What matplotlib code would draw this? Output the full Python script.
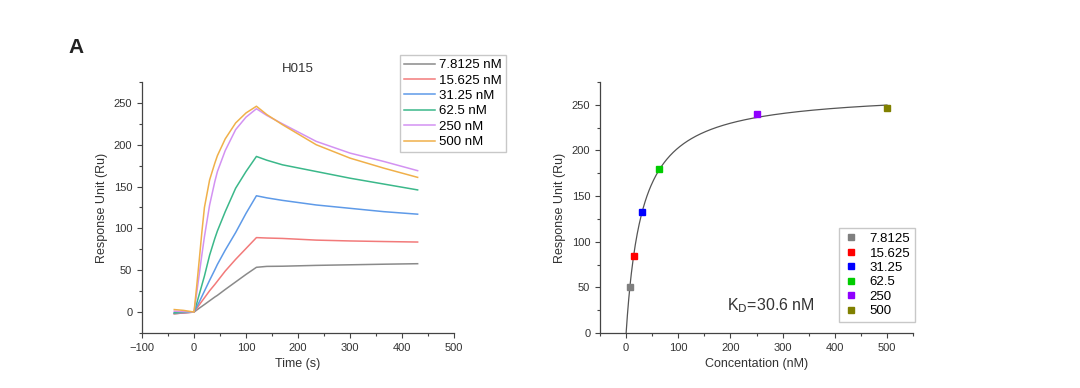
import numpy as np
import matplotlib.pyplot as plt
from matplotlib.ticker import MultipleLocator

plt.rcParams["font.family"] = ["Liberation Sans", "DejaVu Sans"]

# sensorgram (left panel)
time_s = [-38, -20, 0, 5, 10, 15, 20, 30, 40, 45, 60, 80, 100, 120,
          140, 170, 235, 300, 365, 430]
resp_7_8 = [-2, -1, 0, 2.3, 4.6, 6.8, 9, 13.5, 18, 20, 27, 36, 45, 53.5,
            54.6, 54.8, 55.8, 56.5, 57.2, 57.8]
resp_15_6 = [-2, -1, 0, 4, 8.5, 12.8, 17, 25.5, 33, 37, 49, 63, 76, 89,
             88.5, 88, 86, 85, 84.3, 83.7]
resp_31_3 = [-1, -0.5, 0, 6, 12, 18.5, 25, 38, 50.5, 57, 74, 95, 118, 139,
             136.5, 133.5, 128, 124, 120, 117]
resp_62_5 = [-1, 0, 0, 10, 21, 32, 43, 68, 88, 97, 120, 148, 168, 186,
             181.5, 176, 168, 160, 153, 146]
resp_250 = [1, 0.5, 0, 22, 45, 68, 90, 128, 156, 168, 193, 218, 233, 243,
            235, 225, 204, 190, 180, 169]
resp_500 = [3, 2, 0, 30, 62, 95, 125, 158, 178, 187, 207, 226, 238, 246,
            236, 224, 200, 184, 172, 161]
sensor_labels = ["7.8125 nM", "15.625 nM", "31.25 nM", "62.5 nM", "250 nM", "500 nM"]
sensor_colors = ["#8a8a8a", "#f27a7a", "#5e9ae8", "#3bb88a", "#d392f2", "#f0b04a"]

# steady state (right panel)
conc_nM = [7.8125, 15.625, 31.25, 62.5, 250, 500]
resp_eq = [50, 84, 133, 180, 240, 246]
conc_labels = ["7.8125", "15.625", "31.25", "62.5", "250", "500"]
point_colors = ["#7f7f7f", "#ff0000", "#0000ff", "#00cc00", "#8f00ff", "#808000"]
kd = 30.6
rmax = 265

fig = plt.figure(figsize=(10.8, 3.88), dpi=100)
ax1 = fig.add_axes([0.1315, 0.1418, 0.2889, 0.6469])
ax2 = fig.add_axes([0.5556, 0.1418, 0.2898, 0.6469])


def style_axis(ax):
    for side in ["top", "right"]:
        ax.spines[side].set_visible(False)
    for side in ["left", "bottom"]:
        ax.spines[side].set_color("#444444")
        ax.spines[side].set_linewidth(0.9)
    ax.tick_params(which="major", direction="out", length=3.5, width=0.8,
                   labelsize=8, colors="#444444", labelcolor="#333333")
    ax.tick_params(which="minor", direction="out", length=2, width=0.8,
                   colors="#444444")


series = [resp_7_8, resp_15_6, resp_31_3, resp_62_5, resp_250, resp_500]
for vals, lab, col in zip(series, sensor_labels, sensor_colors):
    ax1.plot(time_s, vals, color=col, lw=1.1, label=lab)

ax1.set_xlim(-100, 500)
ax1.set_ylim(-25, 275)
ax1.xaxis.set_major_locator(MultipleLocator(100))
ax1.xaxis.set_minor_locator(MultipleLocator(50))
ax1.yaxis.set_major_locator(MultipleLocator(50))
ax1.yaxis.set_minor_locator(MultipleLocator(25))
ax1.set_yticks([0, 50, 100, 150, 200, 250])
style_axis(ax1)
ax1.set_xlabel("Time (s)", fontsize=9, color="#333333")
ax1.set_ylabel("Response Unit (Ru)", fontsize=9, color="#333333")
ax1.set_title("H015", fontsize=9.5, color="#333333", pad=7)
ax1.legend(loc="upper left", bbox_to_anchor=(0.370, 0.858),
           bbox_transform=fig.transFigure, fontsize=9.5, frameon=True,
           fancybox=False, edgecolor="#bbbbbb", handlelength=2.4,
           labelspacing=0.24, borderpad=0.3, handletextpad=0.3,
           borderaxespad=0)

# fitted binding curve
c_fit = np.linspace(0, 500, 400)
ax2.plot(c_fit, rmax * c_fit / (kd + c_fit), color="#555555", lw=0.9)
for c, r, lab, col in zip(conc_nM, resp_eq, conc_labels, point_colors):
    ax2.plot(c, r, ls="none", marker="s", ms=4, color=col, label=lab)

ax2.set_xlim(-50, 550)
ax2.set_ylim(0, 275)
ax2.xaxis.set_major_locator(MultipleLocator(100))
ax2.xaxis.set_minor_locator(MultipleLocator(50))
ax2.yaxis.set_major_locator(MultipleLocator(50))
ax2.yaxis.set_minor_locator(MultipleLocator(25))
ax2.set_xticks([0, 100, 200, 300, 400, 500])
ax2.set_yticks([0, 50, 100, 150, 200, 250])
style_axis(ax2)
ax2.set_xlabel("Concentation (nM)", fontsize=9, color="#333333")
ax2.set_ylabel("Response Unit (Ru)", fontsize=9, color="#333333")
ax2.text(0.406, 0.11, r"K$_\mathrm{D}$=30.6 nM", transform=ax2.transAxes,
         fontsize=11.5, color="#333333", va="center")
ax2.legend(loc="lower right", bbox_to_anchor=(0.847, 0.170),
           bbox_transform=fig.transFigure, fontsize=9.5, frameon=True,
           fancybox=False, edgecolor="#bbbbbb", handlelength=1.2,
           labelspacing=0.17, borderpad=0.35, handletextpad=0.8,
           borderaxespad=0)

fig.text(0.063, 0.878, "A", fontsize=15, fontweight="bold", color="#222222",
         va="center")

fig.savefig("out.png", dpi=100)
